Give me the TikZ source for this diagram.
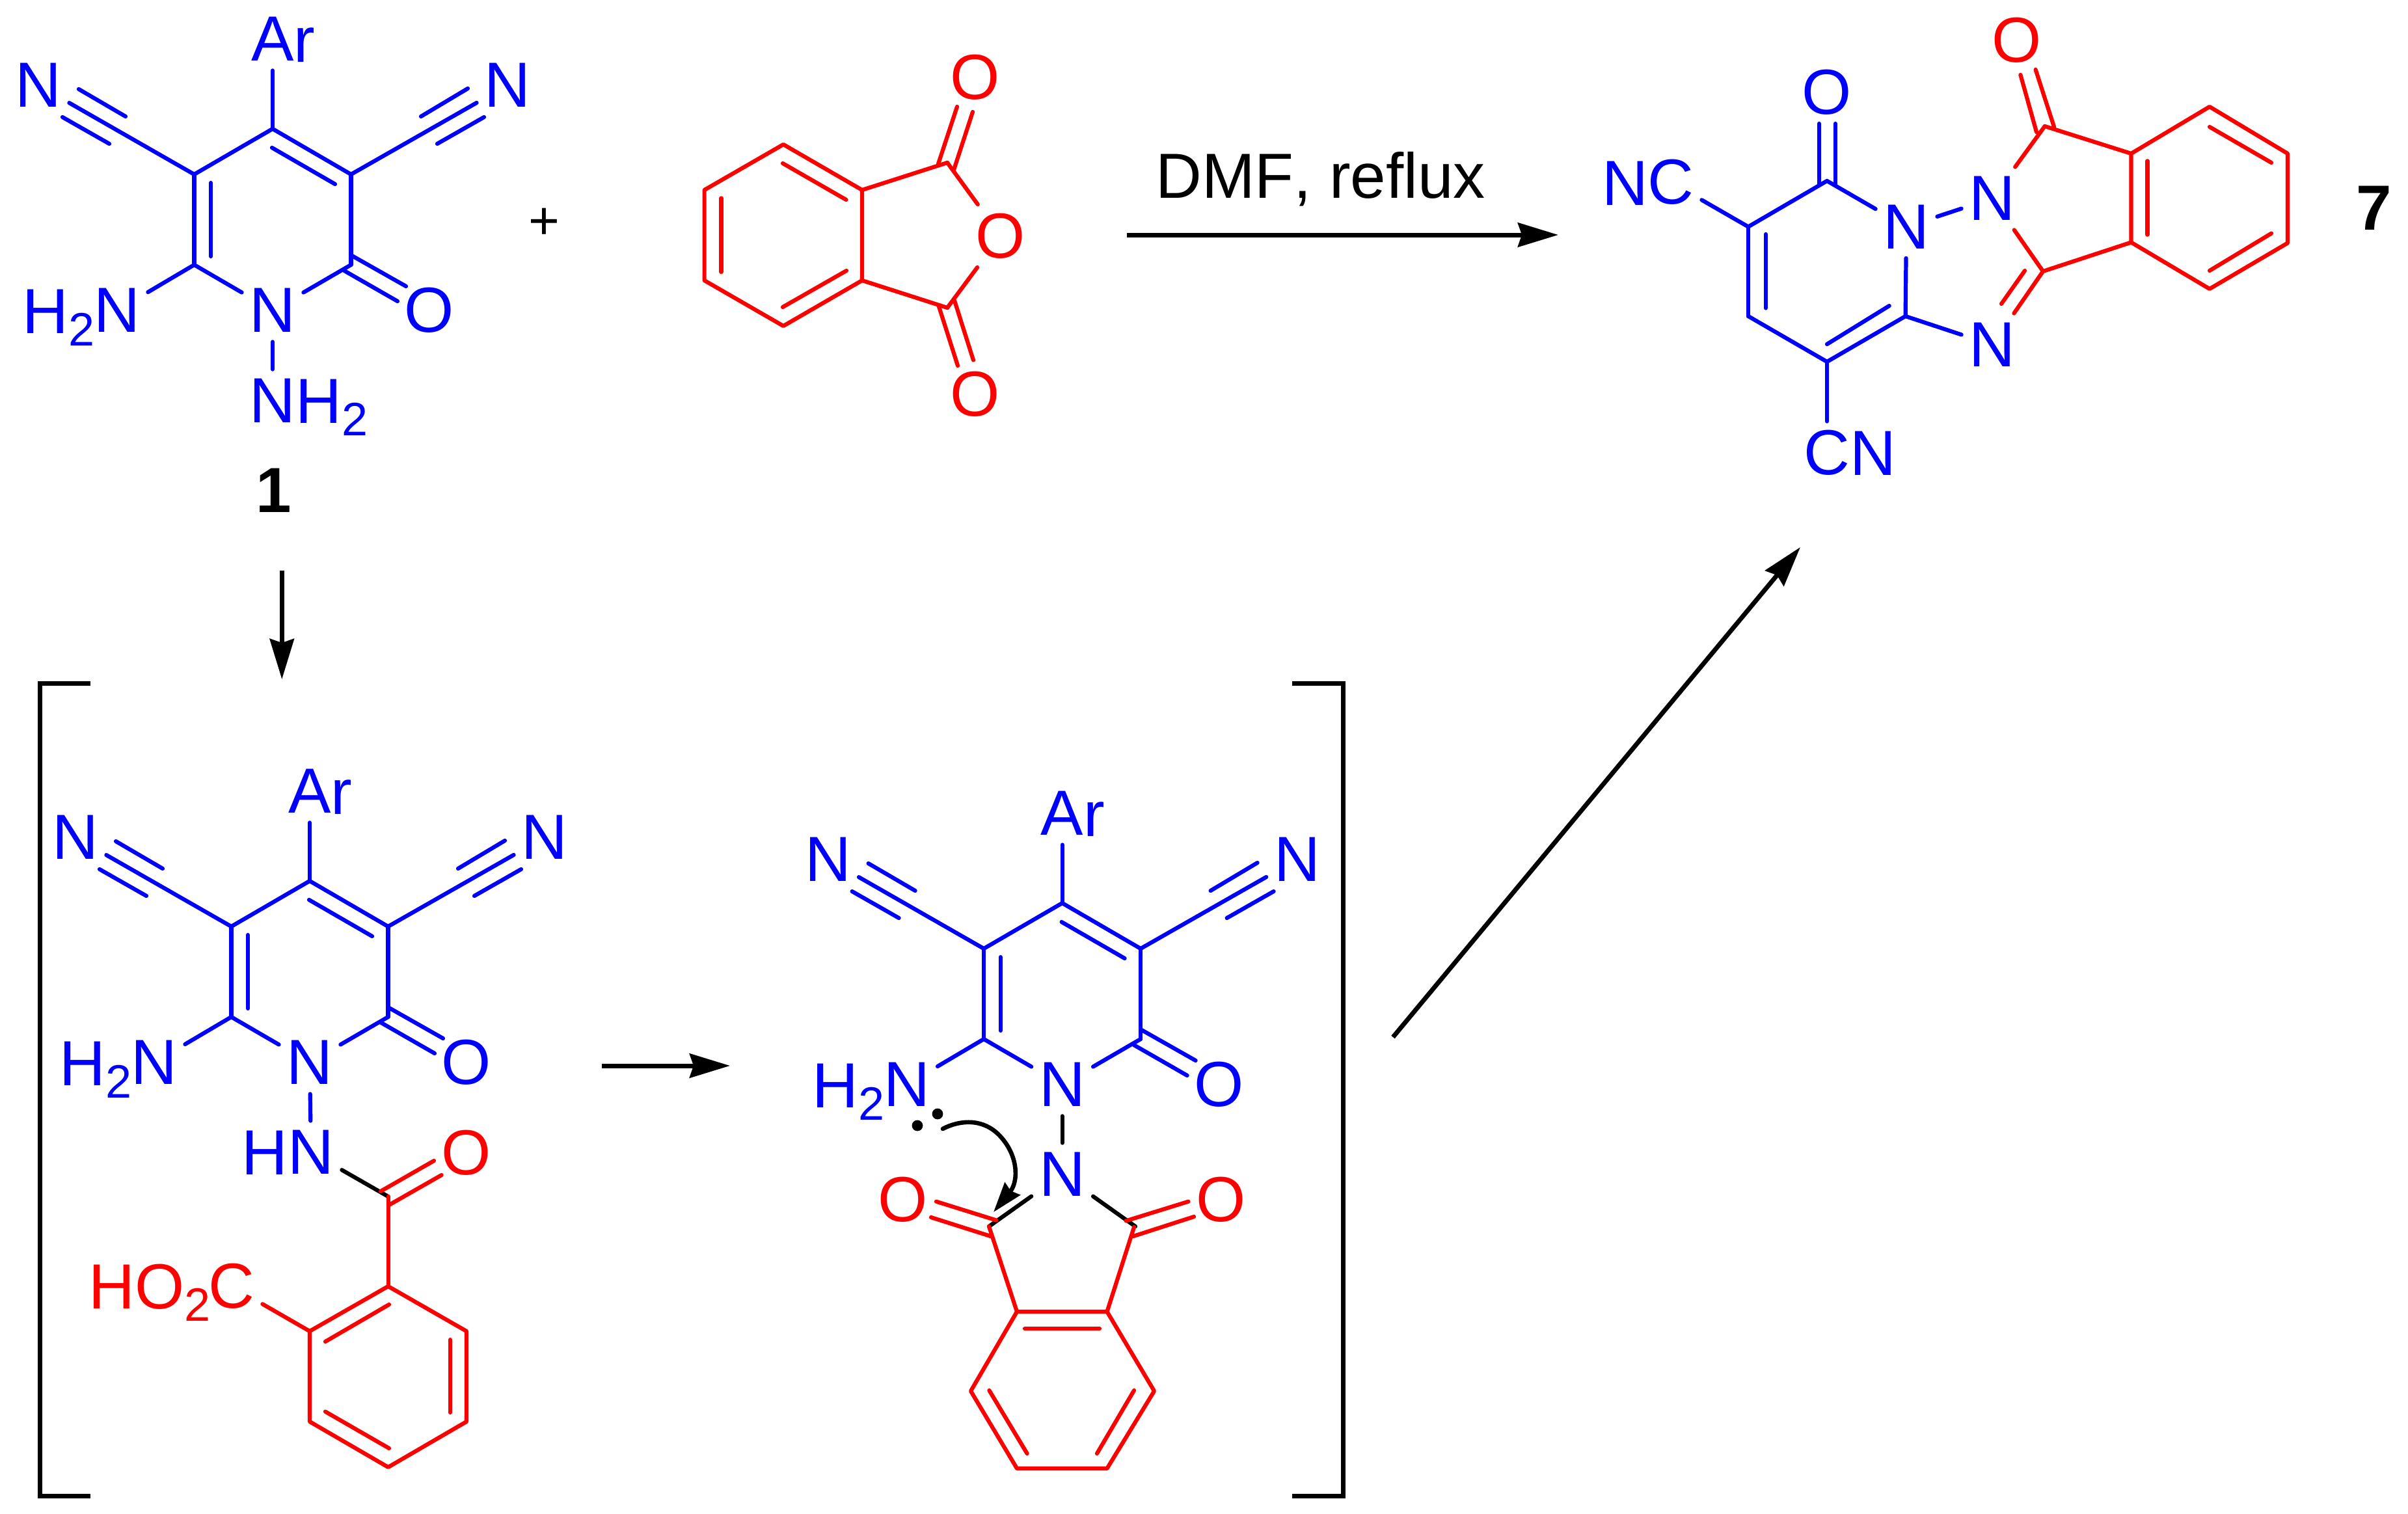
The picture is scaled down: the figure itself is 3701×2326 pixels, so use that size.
\documentclass[tikz,border=0pt]{standalone}
\usepackage{fontspec}
\setmainfont[Kerning=Off]{Liberation Sans}
\usetikzlibrary{arrows.meta}
\newcommand\sbs[1]{\raisebox{-9.5pt}{\fontsize{36pt}{36pt}\selectfont #1}}
\tikzset{
  txt/.style={inner sep=0pt,font=\fontsize{49pt}{49pt}\selectfont},
  tb/.style={txt,text=blue},
  tr/.style={txt,text=red},
  atom/.style={rectangle,inner sep=0pt,minimum width=47pt,minimum height=48pt,font=\fontsize{49pt}{49pt}\selectfont},
  ab/.style={atom,text=blue},
  ar/.style={atom,text=red},
  bnd/.style={line width=3.1pt,line cap=round,line join=round},
  bb/.style={bnd,draw=blue},
  rb/.style={bnd,draw=red},
  kb/.style={bnd,draw=black},
  rxn/.style={line width=3.5pt,-{Stealth[length=31pt,width=18.5pt,inset=3pt]}},
  brk/.style={line width=3.5pt,miter limit=10},
}
% the cyano-pyridone core shared by three structures
\newcommand\pyridone[1]{%
  \coordinate (#1c4) at (419,198);
  \coordinate (#1c3) at (298.5,268);
  \coordinate (#1c2) at (298.5,407);
  \coordinate (#1c5) at (539.5,268);
  \coordinate (#1c6) at (539.5,407);
  \node[ab] (#1a) at (419,60) {A};
  \node[tb,anchor=base west] (#1r) at (451,95.4) {r};
  \node[ab] (#1nl) at (59,131) {N};
  \node[ab] (#1nr) at (780,131) {N};
  \node[ab] (#1n) at (419,477) {N};
  \node[ab] (#1o) at (660,477) {O};
  \node[ab] (#1nh) at (180,477) {N};
  \node[tb,anchor=base east] (#1h) at (146,512) {H\sbs{2}};
  \draw[bb] (#1c4) -- (#1a);
  \draw[bb] (#1c4) -- (#1c3);
  \draw[bb] (#1c4) -- (#1c5);
  \draw[bb] (#1c3) -- (#1c2);
  \draw[bb] (#1c5) -- (#1c6);
  \draw[bb] (#1c2) -- (#1n);
  \draw[bb] (#1c6) -- (#1n);
  \draw[bb] (#1c2) -- (#1nh);
  \draw[bb] (#1c3) -- (#1nl);
  \draw[bb] (#1c5) -- (#1nr);
  \draw[bb] (121,137) -- (193,179);
  \draw[bb] (96,180) -- (168,221);
  \draw[bb] (719,136) -- (647,179);
  \draw[bb] (744,180) -- (672,221);
  \draw[bb] (418,227) -- (515,283);
  \draw[bb] (324,281) -- (324,394);
  \draw[bb] (541,393) -- (624,440);
  \draw[bb] (529,416) -- (611,463);
}
\begin{document}
\begin{tikzpicture}[x=0.5pt,y=-0.5pt]
\useasboundingbox (0,0) rectangle (3701,2326);

% ---------- compound 1
\pyridone{p}
\node[ab] (pnn) at (419,616) {N};
\node[tb,anchor=base west] (pnh) at (454.5,650) {H\sbs{2}};
\draw[bb] (pn) -- (pnn);
\node[txt,font=\bfseries\fontsize{49pt}{49pt}\selectfont,anchor=base] (lab1) at (421,787) {1};
\node[txt,font=\fontsize{41pt}{41pt}\selectfont] (plus) at (836,344) {+};

% ---------- phthalic anhydride
\coordinate (a1) at (1204,222);
\coordinate (a2) at (1082.6,292);
\coordinate (a3) at (1082.6,431);
\coordinate (a4) at (1204,501);
\coordinate (a5) at (1325,431);
\coordinate (a6) at (1325,292);
\coordinate (ac1) at (1456,250);
\coordinate (ac2) at (1456,473);
\node[ar] (ao) at (1538,362.5) {O};
\node[ar] (aot) at (1499,119) {O};
\node[ar] (aob) at (1499,606) {O};
\draw[rb] (a1) -- (a2) -- (a3) -- (a4) -- (a5) -- (a6) -- cycle;
\draw[rb] (a6) -- (ac1);
\draw[rb] (a5) -- (ac2);
\draw[rb] (ac1) -- (ao);
\draw[rb] (ac2) -- (ao);
\draw[rb] (1203,251) -- (1300.5,307);
\draw[rb] (1108.5,304.5) -- (1108.5,418);
\draw[rb] (1203,472) -- (1301,416);
\draw[rb] (1471,164) -- (1442,252);
\draw[rb] (1495,172) -- (1466,261);
\draw[rb] (1472,562) -- (1443,471);
\draw[rb] (1496,553.5) -- (1467,462);

% ---------- reaction arrows
\node[txt,anchor=base west] (dmf) at (1776,304.6) {DMF, reflux};
\coordinate (r1s) at (1732,361);
\coordinate (r1e) at (2395,361);
\draw[rxn] (r1s) -- (r1e);
\coordinate (r2s) at (433.3,877);
\coordinate (r2e) at (433.3,1044);
\draw[rxn] (r2s) -- (r2e);
\coordinate (r3s) at (925,1638);
\coordinate (r3e) at (1122,1638);
\draw[rxn] (r3s) -- (r3e);
\coordinate (r4s) at (2141,1594);
\coordinate (r4e) at (2767,841);
\draw[rxn] (r4s) -- (r4e);

% ---------- brackets
\coordinate (bl1) at (139,1050);
\coordinate (bl2) at (61,1050);
\coordinate (bl3) at (61,2299);
\coordinate (bl4) at (139,2299);
\draw[brk] (bl1) -- (bl2) -- (bl3) -- (bl4);
\coordinate (br1) at (1986,1050);
\coordinate (br2) at (2064.5,1050);
\coordinate (br3) at (2064.5,2299);
\coordinate (br4) at (1986,2299);
\draw[brk] (br1) -- (br2) -- (br3) -- (br4);

% ---------- left intermediate
\begin{scope}[shift={(57,1156)}]
\pyridone{q}
\end{scope}
\node[ab] (qhn) at (478,1771) {N};
\node[tb,anchor=base east] (qhh) at (442.5,1805) {H};
\draw[bb] (qn) -- (qhn);
\coordinate (qco) at (596.6,1839);
\node[ar] (qo2) at (717,1772) {O};
\draw[kb] (qhn) -- (qco);
\draw[rb] (667,1784) -- (585,1831);
\draw[rb] (678.6,1806) -- (598,1852);
\coordinate (b1) at (596.6,1977);
\coordinate (b2) at (476,2046);
\coordinate (b3) at (476,2185);
\coordinate (b4) at (596.6,2255);
\coordinate (b5) at (717,2185);
\coordinate (b6) at (717,2046);
\draw[rb] (qco) -- (b1);
\draw[rb] (b1) -- (b2) -- (b3) -- (b4) -- (b5) -- (b6) -- cycle;
\draw[rb] (598,2005) -- (500,2062);
\draw[rb] (692,2059) -- (692,2171);
\draw[rb] (500,2169.6) -- (598,2226);
\node[ar] (qc) at (356,1977) {C};
\node[tr,anchor=base east] (qho) at (324,2011) {HO\sbs{2}};
\draw[rb] (b2) -- (qc);

% ---------- middle intermediate
\begin{scope}[shift={(1213.6,1190)}]
\pyridone{m}
\end{scope}
\node[ab] (mnn) at (1632.6,1805) {N};
\draw[kb] (mn) -- (mnn);
\coordinate (mcl) at (1520,1885);
\coordinate (mcr) at (1745,1885);
\draw[kb] (mnn) -- (mcl);
\draw[kb] (mnn) -- (mcr);
\coordinate (m1) at (1563,2016);
\coordinate (m2) at (1701.5,2016);
\coordinate (m3) at (1774,2138);
\coordinate (m4) at (1701.5,2257);
\coordinate (m5) at (1563,2257);
\coordinate (m6) at (1492,2138);
\draw[rb] (mcl) -- (m1);
\draw[rb] (1743,1886) -- (m2);
\draw[rb] (m1) -- (m2) -- (m3) -- (m4) -- (m5) -- (m6) -- cycle;
\draw[rb] (1575,2042) -- (1690,2042);
\draw[rb] (1520.4,2137) -- (1578.6,2234);
\draw[rb] (1743,2137) -- (1686,2234);
\node[ar] (mol) at (1388,1844) {O};
\node[ar] (mor) at (1876.5,1844) {O};
\draw[rb] (1439,1846.7) -- (1531.6,1875.6);
\draw[rb] (1431,1871) -- (1522.4,1900);
\draw[rb] (1826.5,1846.7) -- (1730.6,1876.4);
\draw[rb] (1835,1870) -- (1742,1900);
% lone pair and curved arrow
\fill[black] (1410,1730) circle (4.2pt);
\fill[black] (1441,1712) circle (4.2pt);
\coordinate (ca0) at (1449,1735);
\coordinate (ca1) at (1527,1863);
\draw[line width=3.3pt,line cap=round,-{Stealth[length=23pt,width=15pt,inset=2pt]}]
  (ca0) .. controls (1478,1720) and (1512,1720) .. (1536,1745)
  .. controls (1565,1775) and (1566,1815) .. (ca1);

% ---------- compound 7
\coordinate (s1) at (2808,278);
\coordinate (s2) at (2687,348.5);
\coordinate (s3) at (2687,486);
\coordinate (s4) at (2808,556);
\coordinate (s5) at (2928.6,486);
\node[ab] (sn1) at (2930,348.5) {N};
\node[ab] (sn2) at (3062,305) {N};
\node[ab] (sn3) at (3062,530) {N};
\node[ab] (so1) at (2808,142) {O};
\node[ar] (so2) at (3099.6,62) {O};
\node[ab] (snc) at (2568,280) {C};
\node[tb,anchor=base east] (sncn) at (2534,315) {N};
\node[ab] (scn) at (2808,696) {C};
\node[tb,anchor=base west] (scnn) at (2843.5,730) {N};
\draw[bb] (s1) -- (s2);
\draw[bb] (s2) -- (s3);
\draw[bb] (s3) -- (s4);
\draw[bb] (s4) -- (s5);
\draw[bb] (s1) -- (sn1);
\draw[bb] (s5) -- (sn1);
\draw[bb] (sn1) -- (sn2);
\draw[bb] (s5) -- (sn3);
\draw[bb] (s2) -- (snc);
\draw[bb] (s4) -- (scn);
\draw[bb] (2795.9,190) -- (2795.9,283);
\draw[bb] (2820.8,190) -- (2820.8,283);
\draw[bb] (2713.7,360) -- (2713.7,473.5);
\draw[bb] (2808,529) -- (2903.7,470);
\coordinate (t1) at (3142.7,194);
\coordinate (t2) at (3140,417);
\coordinate (t3) at (3275.5,236);
\coordinate (t4) at (3396,164);
\coordinate (t5) at (3516,236);
\coordinate (t6) at (3516,373.5);
\coordinate (t7) at (3396,444);
\coordinate (t8) at (3275.5,372.5);
\draw[rb] (t1) -- (sn2);
\draw[rb] (t2) -- (sn2);
\draw[rb] (t2) -- (sn3);
\draw[rb] (t1) -- (t3);
\draw[rb] (t2) -- (t8);
\draw[rb] (t3) -- (t4) -- (t5) -- (t6) -- (t7) -- (t8) -- cycle;
\draw[rb] (3112,416) -- (3076,467);
\draw[rb] (3105.4,115) -- (3130,203);
\draw[rb] (3128.6,107) -- (3157,195);
\draw[rb] (3300.4,247.4) -- (3300.4,360.7);
\draw[rb] (3396,195) -- (3491,250);
\draw[rb] (3491,358.7) -- (3396,416);
\node[txt,font=\bfseries\fontsize{49pt}{49pt}\selectfont,anchor=base] (lab7) at (3649,353) {7};
\end{tikzpicture}
\end{document}
